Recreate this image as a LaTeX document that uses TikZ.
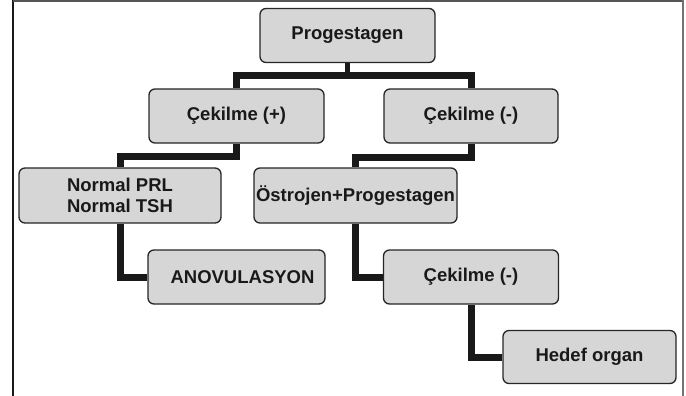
\documentclass[tikz,border=0pt]{standalone}
\usepackage{fontspec}
\setmainfont{Liberation Sans}
\usetikzlibrary{backgrounds}
\definecolor{boxfill}{HTML}{D6D6D6}
\definecolor{boxline}{HTML}{262626}
\definecolor{frameg}{HTML}{555555}
\begin{document}
\begin{tikzpicture}[x=1pt,y=-1pt,
  box/.style={draw=boxline,line width=1.3pt,fill=boxfill,rounded corners=6pt,
    minimum height=54pt,inner sep=0pt,align=center,
    font=\fontsize{18.5}{20.5}\selectfont\bfseries,text=black!90},
  conn/.style={line width=7pt,draw=black!90,line join=miter},
  stub/.style={line width=5pt,draw=black!90}]
\useasboundingbox (0,0) rectangle (686,396);
% frame
\draw[line width=1.4pt,black!90] (13,0) -- (13,396);
\draw[line width=1.8pt,frameg] (13,1) -- (683,1);
\draw[line width=1.8pt,black!55] (683,0) -- (683,396);
% boxes
\node[box,minimum width=175pt] (prog) at (347.5,35.5) {Progestagen};
\node[box,minimum width=175pt] (cp) at (236.5,116) {Çekilme (+)};
\node[box,minimum width=174pt] (cm1) at (471,116) {Çekilme (-)};
\node[box,minimum width=202pt,minimum height=55pt] (norm) at (120,195.5) {Normal PRL\\Normal TSH};
\node[box,minimum width=203pt,minimum height=55pt] (ost) at (355.5,195.5) {Östrojen+Progestagen};
\node[box,minimum width=177pt] (anov) at (236.5,277) {\hspace*{12pt}ANOVULASYON};
\node[box,minimum width=175pt] (cm2) at (471,277) {Çekilme (-)};
\node[box,minimum width=173pt,minimum height=53pt] (hed) at (589.5,357) {Hedef organ};
% connector levels
\coordinate (barA) at (347.5,76);
\coordinate (barB) at (0,156.5);
\coordinate (barC) at (0,157);
\begin{scope}[on background layer]
\draw[stub] (prog.south) -- (prog.south |- barA);
\draw[conn] (cp.north) -- (cp.north |- barA) -- (cm1.north |- barA) -- (cm1.north);
\draw[conn] (cp.south) -- (cp.south |- barB) -- (norm.north |- barB) -- (norm.north);
\draw[conn] (cm1.south) -- (cm1.south |- barC) -- (ost.north |- barC) -- (ost.north);
\draw[conn] (norm.south) |- (anov.west);
\draw[conn] (ost.south) |- (cm2.west);
\draw[conn] (cm2.south) |- (hed.west);
\end{scope}
\end{tikzpicture}
\end{document}
